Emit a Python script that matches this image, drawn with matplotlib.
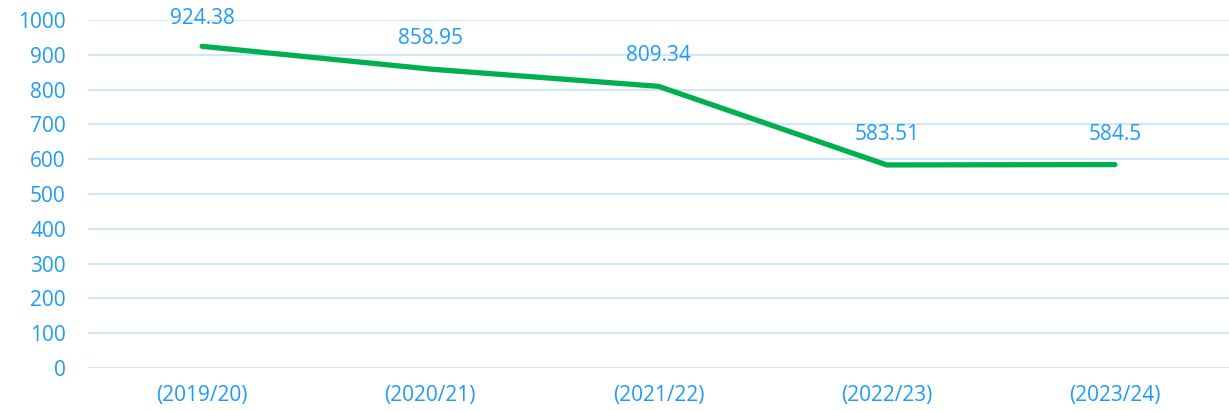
import matplotlib.pyplot as plt

years = ["(2019/20)", "(2020/21)", "(2021/22)", "(2022/23)", "(2023/24)"]
values = [924.38, 858.95, 809.34, 583.51, 584.5]
labels = ["924.38", "858.95", "809.34", "583.51", "584.5"]
yticks = [0, 100, 200, 300, 400, 500, 600, 700, 800, 900, 1000]

text_color = "#1f9bf7"
plt.rcParams["font.family"] = ["Open Sans", "DejaVu Sans"]

fig = plt.figure(figsize=(12.29, 4.11), dpi=100)
ax = fig.add_axes([88 / 1229, 43 / 411, 1 - 88 / 1229, (368 - 20) / 411])

x = list(range(len(years)))
ax.plot(x, values, color="#00b050", linewidth=3.8, solid_capstyle="round", zorder=3)
for xi, v, lab in zip(x, values, labels):
    dy = 20 if xi == 0 else 22
    ax.annotate(lab, (xi, v), xytext=(0, dy), textcoords="offset points",
                ha="center", va="center", color=text_color, fontsize=15)

ax.set_xlim(-0.5, len(years) - 0.5)
ax.set_ylim(0, 1000)
ax.set_yticks(yticks)
ax.set_xticks(x)
ax.set_xticklabels(years)
ax.grid(axis="y", color="#cfe7fb", linewidth=1.4)
ax.set_axisbelow(True)
for s in ax.spines.values():
    s.set_visible(False)
ax.tick_params(axis="both", length=0, colors=text_color, labelsize=15)
ax.tick_params(axis="y", pad=16)
ax.tick_params(axis="x", pad=12)

fig.savefig("out.png", dpi=100)
